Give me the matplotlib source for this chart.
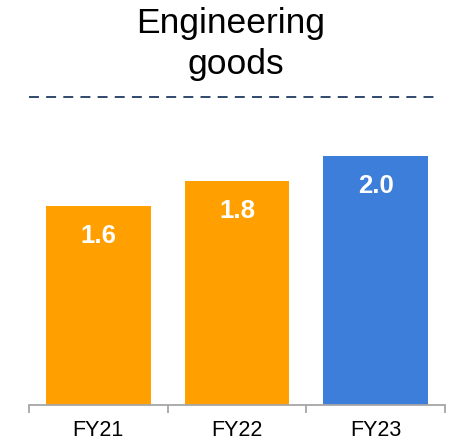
import matplotlib
matplotlib.use('Agg')
import matplotlib.pyplot as plt
from matplotlib.lines import Line2D
import numpy as np

categories = ['FY21', 'FY22', 'FY23']
values = [1.6, 1.8, 2.0]
labels = ['1.6', '1.8', '2.0']
colors = ['#FFA000', '#FFA000', '#3D7EDA']

plt.rcParams['font.family'] = ['Liberation Sans', 'DejaVu Sans']

W, H = 449, 445
fig = plt.figure(figsize=(W / 100, H / 100), dpi=100)

# axes box in pixels: x 29..445, zero line at y=405
ax_left, ax_right = 29, 445
ax_bottom, ax_top = 405, 110
ax = fig.add_axes([ax_left / W, (H - ax_bottom) / H,
                   (ax_right - ax_left) / W, (ax_bottom - ax_top) / H])

x = np.arange(len(categories))
bars = ax.bar(x, values, width=0.755, color=colors)

for b, lab in zip(bars, labels):
    ax.text(b.get_x() + b.get_width() / 2, b.get_height() - 0.3, lab,
            ha='center', va='baseline', color='white', fontsize=18.5, fontweight='bold')

ax.set_xlim(-0.5, len(categories) - 0.5)
ax.set_ylim(0, (ax_bottom - ax_top) / 124.5)

for s in ['top', 'right', 'left']:
    ax.spines[s].set_visible(False)
ax.spines['bottom'].set_color('#A6A6A6')
ax.spines['bottom'].set_linewidth(1.3)
ax.set_yticks([])

# boundary ticks as major, labels on minor ticks at category centres
ax.set_xticks(np.arange(-0.5, len(categories), 1.0))
ax.set_xticklabels([])
ax.tick_params(axis='x', which='major', length=6, width=1.3, color='#A6A6A6', direction='out')
ax.set_xticks(x, minor=True)
ax.set_xticklabels(categories, minor=True, fontsize=15.5)
ax.tick_params(axis='x', which='minor', length=0, pad=10.5)

fig.text(231 / W, 1 - 33 / H, 'Engineering', ha='center', va='baseline', fontsize=25.5)
fig.text(236 / W, 1 - 74 / H, 'goods', ha='center', va='baseline', fontsize=25.5)
fig.add_artist(Line2D([29 / W, 440 / W], [1 - 97 / H, 1 - 97 / H],
                      transform=fig.transFigure, color='#1F3A5F', lw=1.3,
                      linestyle=(0, (5.5, 4))))

fig.savefig('out.png', dpi=100)
